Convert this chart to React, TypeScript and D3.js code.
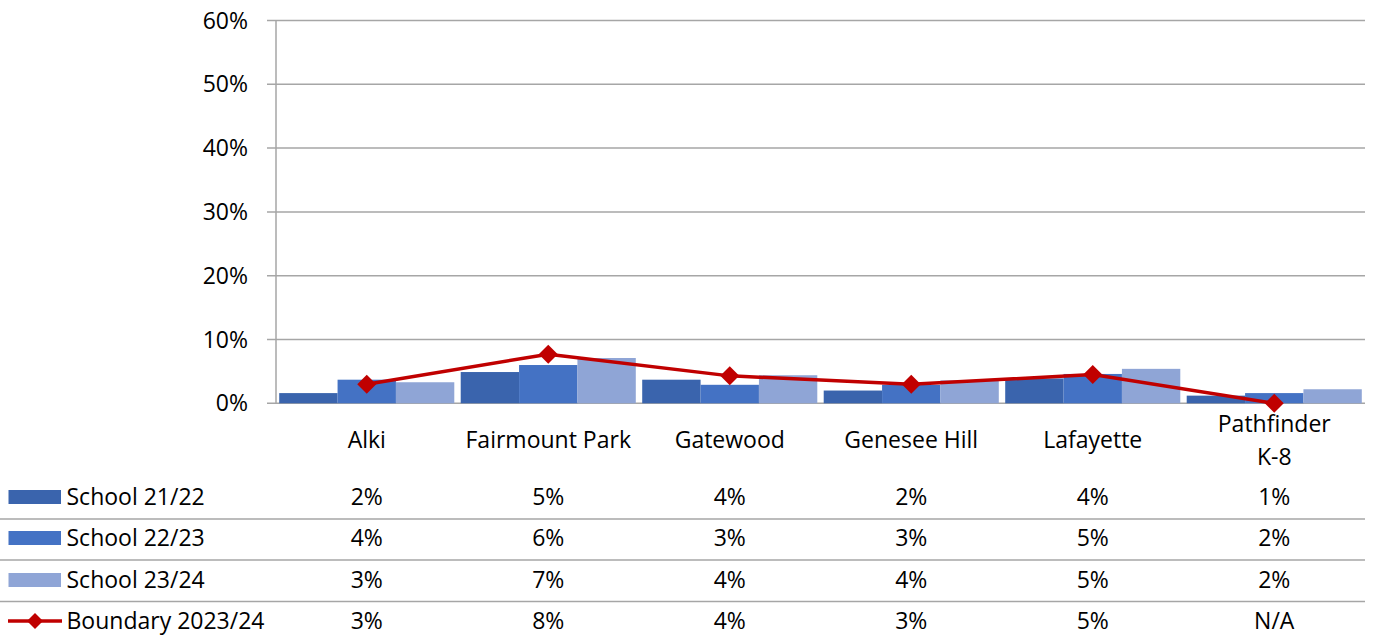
import * as d3 from 'd3';

const categories = ['Alki', 'Fairmount Park', 'Gatewood', 'Genesee Hill', 'Lafayette', 'Pathfinder K-8'];
const categoryLines = [['Alki'], ['Fairmount Park'], ['Gatewood'], ['Genesee Hill'], ['Lafayette'], ['Pathfinder', 'K-8']];

const school2122 = [1.6, 4.9, 3.7, 2.0, 3.9, 1.2];
const school2223 = [3.7, 6.0, 2.9, 2.9, 4.6, 1.6];
const school2324 = [3.3, 7.1, 4.4, 3.6, 5.4, 2.2];
const boundary: (number | null)[] = [3.0, 7.7, 4.3, 3.0, 4.5, null];

const yTicks = [0, 10, 20, 30, 40, 50, 60];

const barSeries = [
    { name: 'School 21/22', values: school2122, color: '#3A64AD' },
    { name: 'School 22/23', values: school2223, color: '#4472C4' },
    { name: 'School 23/24', values: school2324, color: '#8FA5D6' },
];

const FONT = '"Open Sans", sans-serif';
const FS = 23;

export default function App() {
    const width = 1385;
    const height = 639;
    const plot = { left: 276, right: 1365, top: 20.5, bottom: 403.3 };

    const x = d3.scaleBand<string>().domain(categories).range([plot.left, plot.right]).padding(0);
    const x1 = d3
        .scaleBand<string>()
        .domain(barSeries.map((s) => s.name))
        .range([0, x.bandwidth()])
        .paddingInner(0)
        .paddingOuter(0.055);
    const y = d3.scaleLinear().domain([0, 60]).range([plot.bottom, plot.top]);

    const cx = (c: string) => x(c)! + x.bandwidth() / 2;

    const line = d3
        .line<number | null>()
        .x((_, i) => cx(categories[i]))
        .y((d) => y(d ?? 0));

    const diamond = (px: number, py: number, r: number) =>
        `M${px},${py - r}L${px + r},${py}L${px},${py + r}L${px - r},${py}Z`;

    // table rows below the chart
    const rowY = [497, 538, 580, 621];
    const rowLines = [519, 560, 601.5];
    const tableRows = [
        ...barSeries.map((s) => ({ name: s.name, labels: s.values.map((v) => `${Math.round(v)}%`) })),
        { name: 'Boundary 2023/24', labels: boundary.map((v) => (v == null ? 'N/A' : `${Math.round(v)}%`)) },
    ];

    return (
        <svg width={width} height={height} style={{ position: 'absolute', left: 0, top: 0, background: '#fff' }} fontFamily={FONT}>
            {/* gridlines */}
            {yTicks.map((t) => (
                <line key={t} x1={267} x2={plot.right} y1={y(t)} y2={y(t)} stroke="#A6A6A6" strokeWidth={1.5} />
            ))}
            <line x1={plot.left} x2={plot.left} y1={plot.top} y2={plot.bottom} stroke="#A6A6A6" strokeWidth={1.5} />
            {yTicks.map((t) => (
                <text key={t} x={248} y={y(t)} dy="0.35em" textAnchor="end" fontSize={FS} fill="#000">
                    {t}%
                </text>
            ))}

            {/* bars */}
            {barSeries.map((s) =>
                s.values.map((v, i) => (
                    <rect
                        key={s.name + i}
                        x={x(categories[i])! + x1(s.name)!}
                        width={x1.bandwidth()}
                        y={y(v)}
                        height={plot.bottom - y(v)}
                        fill={s.color}
                    />
                ))
            )}

            {/* boundary line */}
            <path d={line(boundary)!} fill="none" stroke="#C00000" strokeWidth={3.5} strokeLinejoin="round" />
            {boundary.map((v, i) => (
                <path key={i} d={diamond(cx(categories[i]), y(v ?? 0), 9.5)} fill="#C00000" />
            ))}

            {/* category labels */}
            {categoryLines.map((lines, i) =>
                lines.map((l, j) => (
                    <text
                        key={i + '-' + j}
                        x={cx(categories[i])}
                        y={lines.length === 1 ? 440 : 424 + j * 33}
                        dy="0.35em"
                        textAnchor="middle"
                        fontSize={FS}
                        fill="#000"
                    >
                        {l}
                    </text>
                ))
            )}

            {/* data table */}
            {rowLines.map((ly) => (
                <line key={ly} x1={0} x2={plot.right} y1={ly} y2={ly} stroke="#A6A6A6" strokeWidth={1.5} />
            ))}
            {tableRows.map((r, ri) => (
                <g key={r.name}>
                    {ri < 3 ? (
                        <rect x={8.5} y={rowY[ri] - 7} width={52.5} height={14} fill={barSeries[ri].color} />
                    ) : (
                        <g>
                            <line x1={8} x2={62} y1={rowY[ri]} y2={rowY[ri]} stroke="#C00000" strokeWidth={3.5} />
                            <path d={diamond(35, rowY[ri], 8)} fill="#C00000" />
                        </g>
                    )}
                    <text x={66.5} y={rowY[ri]} dy="0.35em" fontSize={FS} fill="#000">
                        {r.name}
                    </text>
                    {r.labels.map((lab, i) => (
                        <text key={i} x={cx(categories[i])} y={rowY[ri]} dy="0.35em" textAnchor="middle" fontSize={FS} fill="#000">
                            {lab}
                        </text>
                    ))}
                </g>
            ))}
        </svg>
    );
}
